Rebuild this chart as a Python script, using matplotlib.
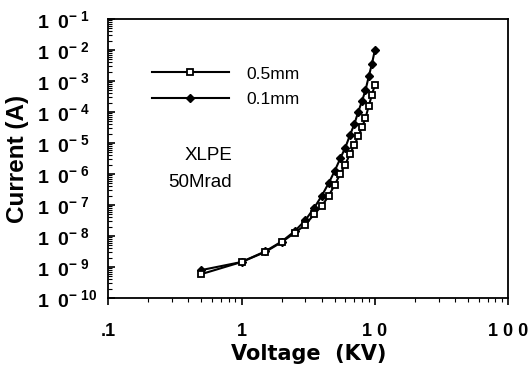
import numpy as np
import matplotlib
matplotlib.use("Agg")
import matplotlib.pyplot as plt
from matplotlib.ticker import FixedLocator, FuncFormatter, LogLocator, NullFormatter

plt.rcParams['font.family'] = ['Liberation Sans', 'DejaVu Sans']
plt.rcParams['mathtext.fontset'] = 'custom'
plt.rcParams['mathtext.rm'] = 'Liberation Sans'
plt.rcParams['mathtext.bf'] = 'Liberation Sans:bold'

# voltage steps (kV)
volts = [0.5, 1, 1.5, 2, 2.5, 3, 3.5, 4, 4.5, 5, 5.5, 6, 6.5, 7, 7.5, 8, 8.5, 9, 9.5, 10]
# log10 of current (A)
logI_05 = [-9.23, -8.84, -8.52, -8.2, -7.9, -7.65, -7.3, -7.03, -6.71, -6.35,
           -6.0, -5.7, -5.35, -5.08, -4.78, -4.5, -4.2, -3.8, -3.45, -3.12]
logI_01 = [-9.1, -8.84, -8.5, -8.18, -7.85, -7.5, -7.1, -6.7, -6.3, -5.9,
           -5.5, -5.15, -4.75, -4.4, -4.0, -3.65, -3.3, -2.85, -2.45, -2.0]
cur_05 = [10 ** v for v in logI_05]
cur_01 = [10 ** v for v in logI_01]

xticks = [0.1, 1, 10, 100]
xticklabels = ['.1', '1', '1 0', '1 0 0']

fig = plt.figure(figsize=(5.30, 3.72), dpi=100)
ax = fig.add_axes([0.204, 0.199, 0.755, 0.750])

ax.plot(volts, cur_05, color='black', lw=1.5, marker='s', ms=4.6,
        mfc='white', mec='black', mew=1.3, label='0.5mm', zorder=3)
ax.plot(volts, cur_01, color='black', lw=1.5, marker='D', ms=4.2,
        mfc='black', mec='black', label='0.1mm', zorder=2)

ax.set_xscale('log')
ax.set_yscale('log')
ax.set_xlim(0.1, 100)
ax.set_ylim(1e-10, 1e-1)

ax.xaxis.set_major_locator(FixedLocator(xticks))
ax.set_xticklabels(xticklabels, fontsize=13, fontweight='bold')
ax.xaxis.set_minor_locator(LogLocator(base=10, subs=np.arange(2, 10)))
ax.xaxis.set_minor_formatter(NullFormatter())

ax.yaxis.set_major_locator(LogLocator(base=10, numticks=20))
ax.yaxis.set_major_formatter(FuncFormatter(
    lambda v, p: r'$\mathbf{1\ \,0^{-\ %d}}$' % round(-np.log10(v))))
ax.yaxis.set_minor_locator(LogLocator(base=10, subs=np.arange(2, 10), numticks=20))
ax.yaxis.set_minor_formatter(NullFormatter())

ax.tick_params(axis='y', which='both', direction='in', labelsize=14, pad=51)
ax.tick_params(axis='y', which='major', length=5, width=1.2)
ax.tick_params(axis='y', which='minor', length=3, width=0.8)
ax.tick_params(axis='x', which='both', direction='out', pad=13)
ax.tick_params(axis='x', which='major', length=5, width=1.2)
ax.tick_params(axis='x', which='minor', length=3, width=0.8)
for lab in ax.get_yticklabels():
    lab.set_horizontalalignment('left')
for s in ax.spines.values():
    s.set_linewidth(1.3)

ax.set_xlabel('Voltage  (KV)', fontsize=15, fontweight='bold',
              family='DejaVu Sans', labelpad=3)
ax.set_ylabel('Current (A)', fontsize=17.5, fontweight='bold', labelpad=0)
ax.yaxis.set_label_coords(-0.198, 0.5)

ax.legend(loc='upper left', bbox_to_anchor=(0.11, 0.83), frameon=False,
          fontsize=12.5, handlelength=4.4, handletextpad=1.0, labelspacing=0.58,
          borderpad=0, borderaxespad=0)

ax.text(0.19, 0.495, 'XLPE', transform=ax.transAxes, fontsize=13.5, va='baseline')
ax.text(0.15, 0.398, '50Mrad', transform=ax.transAxes, fontsize=13.5, va='baseline')

fig.savefig('out.png', dpi=100)
